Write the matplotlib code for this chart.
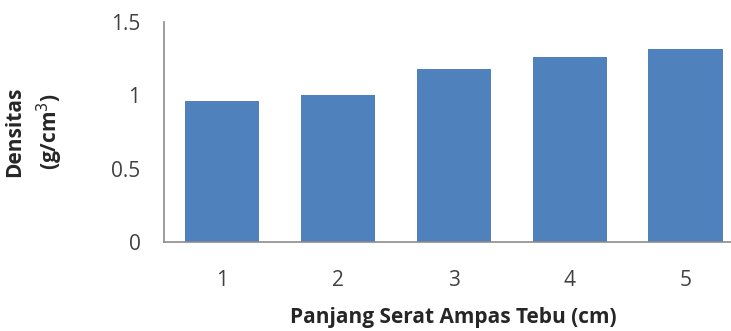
import matplotlib.pyplot as plt

# Densitas papan vs panjang serat ampas tebu
panjang = [1, 2, 3, 4, 5]
densitas = [0.96, 1.00, 1.18, 1.26, 1.31]
yticks = [0, 0.5, 1, 1.5]
ylabels = ["0", "0.5", "1", "1.5"]

plt.rcParams['font.family'] = ['Open Sans', 'DejaVu Sans']

fig = plt.figure(figsize=(7.31, 3.31), dpi=100)
ax = fig.add_axes([0.2244, 0.2689, 0.7926, 0.666])

ax.bar(panjang, densitas, width=0.64, color="#4F81BD")

ax.set_xlim(0.5, 5.5)
ax.set_ylim(0, 1.5)
ax.set_xticks(panjang)
ax.set_yticks(yticks)
ax.set_yticklabels(ylabels)
ax.tick_params(axis="both", length=0, labelsize=15, colors="#404040")
ax.tick_params(axis="x", pad=20)
ax.tick_params(axis="y", pad=17)

for s in ["top", "right"]:
    ax.spines[s].set_visible(False)
for s in ["left", "bottom"]:
    ax.spines[s].set_color("#8c8c8c")
    ax.spines[s].set_linewidth(1.2)

ax.set_xlabel("Panjang Serat Ampas Tebu (cm)", fontsize=15, fontweight="bold",
              color="#262626", labelpad=12)
ax.set_ylabel("Densitas\n(g/cm$^3$)", fontsize=15, fontweight="bold",
              color="#262626", linespacing=1.45)
ax.yaxis.set_label_coords(-0.171, 0.5)

fig.savefig("out.png", dpi=100)
